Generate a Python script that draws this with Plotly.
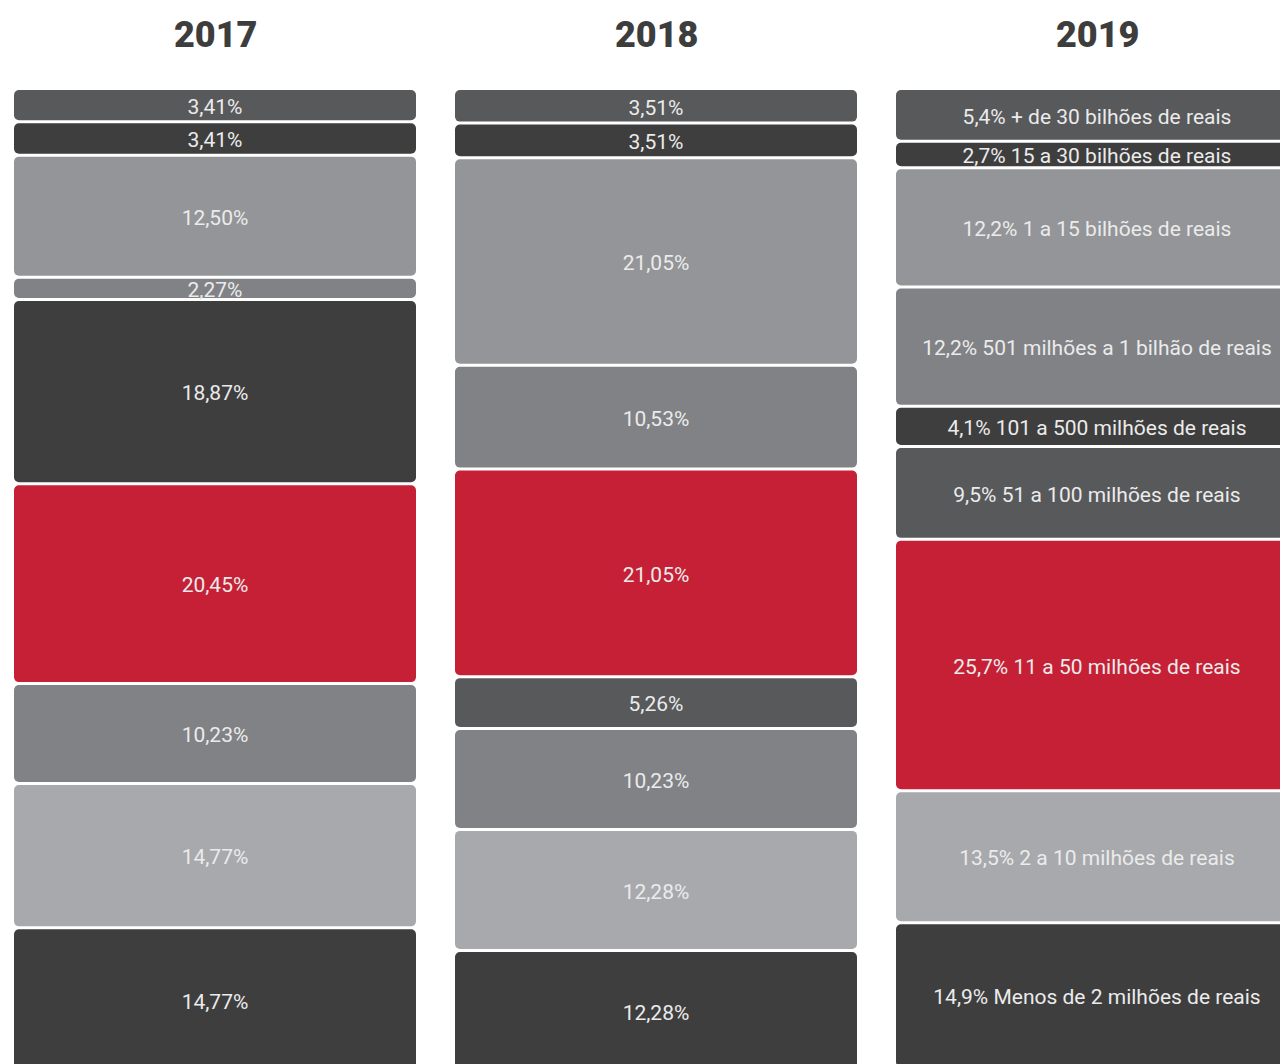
import plotly.graph_objects as go

years = ["2017", "2018", "2019"]

values_2017 = [3.41, 3.41, 12.50, 2.27, 18.87, 20.45, 10.23, 14.77, 14.77]
values_2018 = [3.51, 3.51, 21.05, 10.53, 21.05, 5.26, 10.23, 12.28, 12.28]
values_2019 = [5.4, 2.7, 12.2, 12.2, 4.1, 9.5, 25.7, 13.5, 14.9]

ranges_2019 = ["+ de 30 bilhões de reais", "15 a 30 bilhões de reais", "1 a 15 bilhões de reais",
               "501 milhões a 1 bilhão de reais", "101 a 500 milhões de reais",
               "51 a 100 milhões de reais", "11 a 50 milhões de reais",
               "2 a 10 milhões de reais", "Menos de 2 milhões de reais"]

labels_2017 = ["3,41%", "3,41%", "12,50%", "2,27%", "18,87%", "20,45%", "10,23%", "14,77%", "14,77%"]
labels_2018 = ["3,51%", "3,51%", "21,05%", "10,53%", "21,05%", "5,26%", "10,23%", "12,28%", "12,28%"]
labels_2019 = ["5,4%", "2,7%", "12,2%", "12,2%", "4,1%", "9,5%", "25,7%", "13,5%", "14,9%"]
labels_2019 = [f"{p} {r}" for p, r in zip(labels_2019, ranges_2019)]

# styles
D1 = "#58595b"
D2 = "#3e3e3e"
G1 = "#939598"
G2 = "#808285"
G3 = "#a7a9ac"
RED = "#c62036"
colors_2017 = [D1, D2, G1, G2, D2, RED, G2, G3, D2]
colors_2018 = [D1, D2, G1, G2, RED, D1, G2, G3, D2]
colors_2019 = [D1, D2, G1, G2, D2, D1, RED, G3, D2]

# pixels per percentage point in each column
columns = [
    (values_2017, labels_2017, colors_2017, 9.77),
    (values_2018, labels_2018, colors_2018, 9.86),
    (values_2019, labels_2019, colors_2019, 9.78),
]

# page body adds an 8px offset
W = 1280
H = 1056
TOP = 80
PLOT_H = H - TOP
GAP_PX = 3
TEXT_SHIFT_PX = 3.5
COL_SPACING_PX = 441
COL_W_PX = 402
CENTER0_PX = 207

fig = go.Figure()

for k, (vals, labs, cols, scale) in enumerate(columns):
    yname = "y" if k == 0 else f"y{k+1}"
    g = GAP_PX / 2 / scale
    ts = TEXT_SHIFT_PX / scale
    starts = []
    s = 0.0
    for v in vals:
        starts.append(s)
        s += v
    fig.add_trace(go.Bar(
        x=[k] * len(vals),
        y=[v - 2 * g for v in vals],
        base=[st + g for st in starts],
        width=COL_W_PX / COL_SPACING_PX,
        marker=dict(color=cols, line=dict(width=0), cornerradius=5),
        yaxis=yname, showlegend=False, hoverinfo="skip",
    ))
    fig.add_trace(go.Scatter(
        x=[k] * len(vals), y=[st + v / 2 + ts for st, v in zip(starts, vals)],
        mode="text", text=labs,
        textfont=dict(family="Roboto, sans-serif", size=21, color="#ebebeb"),
        textposition="middle center", yaxis=yname, showlegend=False, hoverinfo="skip",
        cliponaxis=False,
    ))

x_left = -CENTER0_PX / COL_SPACING_PX
x_right = x_left + W / COL_SPACING_PX

layout_axes = {}
for k, (_, _, _, scale) in enumerate(columns):
    top = -0.5 / scale
    bottom = top + PLOT_H / scale
    ax = dict(range=[bottom, top], visible=False, fixedrange=True, domain=[0, 1])
    if k > 0:
        ax["overlaying"] = "y"
    layout_axes["yaxis" if k == 0 else f"yaxis{k+1}"] = ax

fig.update_layout(
    width=W, height=H,
    margin=dict(l=0, r=0, t=TOP, b=0),
    paper_bgcolor="white", plot_bgcolor="white",
    barmode="overlay",
    xaxis=dict(range=[x_left, x_right], visible=False, fixedrange=True),
    **layout_axes,
)

for k, yr in enumerate(years):
    fig.add_annotation(
        x=k, xref="x", y=1 + (TOP - 27) / PLOT_H, yref="paper",
        text=yr, showarrow=False, yanchor="middle",
        font=dict(family="Roboto, sans-serif", size=36, color="#3d3d3d", weight=900),
    )

fig.write_html("out.html")
